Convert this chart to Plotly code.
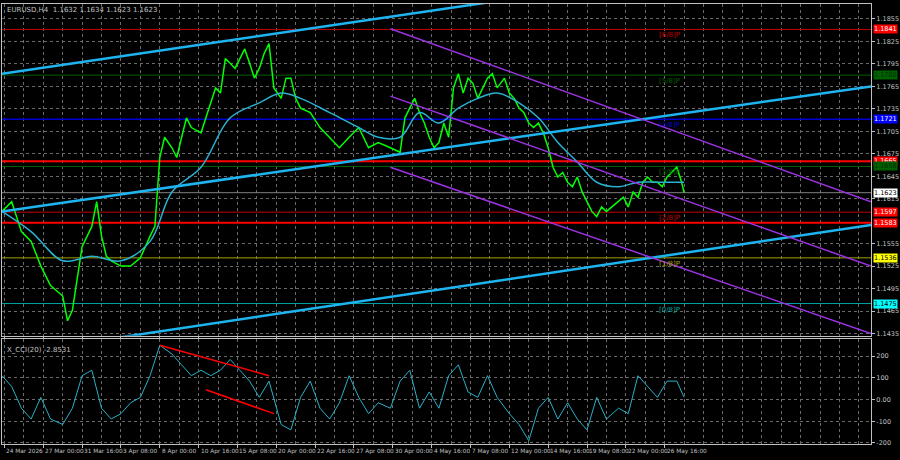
import plotly.graph_objects as go
from plotly.subplots import make_subplots

bars = [0,4,8,12,16,20,25,27,29,31,33,37,39,41,43,45,49,53,57,61,63,65,67,70,72,74,76,78,82,86,88,90,92,94,96,98,100,102,104,106,108,110,112,115,117,119,121,123,127,131,135,139,143,147,151,155,160,164,166,168,170,172,174,176,178,180,182,184,186,188,190,192,194,196,200,202,204,207,209,211,213,215,217,219,221,223,225,227,229,231,233,235,237,239,241,243,245,247,249,254,256,258,260,262,264,266,268,270,272,274,276,278,280,281]
close = [1.1598,1.1611,1.1571,1.1558,1.1525,1.1499,1.1485,1.1452,1.1466,1.1512,1.1551,1.1578,1.1611,1.1565,1.1538,1.1532,1.1525,1.1525,1.1536,1.1565,1.1578,1.1670,1.1697,1.1683,1.1670,1.1697,1.1723,1.1710,1.1703,1.1743,1.1763,1.1756,1.1802,1.1796,1.1789,1.1802,1.1815,1.1796,1.1776,1.1789,1.1809,1.1822,1.1763,1.1749,1.1776,1.1776,1.1749,1.1736,1.1730,1.1710,1.1697,1.1683,1.1697,1.1710,1.1683,1.1690,1.1683,1.1677,1.1723,1.1736,1.1749,1.1730,1.1716,1.1697,1.1683,1.1690,1.1716,1.1697,1.1763,1.1782,1.1756,1.1776,1.1769,1.1749,1.1776,1.1782,1.1763,1.1776,1.1756,1.1749,1.1736,1.1730,1.1716,1.1710,1.1716,1.1703,1.1683,1.1657,1.1644,1.1650,1.1637,1.1631,1.1644,1.1624,1.1611,1.1598,1.1591,1.1604,1.1598,1.1611,1.1617,1.1604,1.1624,1.1617,1.1637,1.1644,1.1637,1.1637,1.1631,1.1644,1.1650,1.1657,1.1637,1.1623]

ma_bars = [0,12,25,37,49,61,70,82,94,106,115,123,135,147,155,164,172,180,188,196,204,213,221,229,237,245,254,262,270,281]
ma_vals = [1.1598,1.1571,1.1532,1.1538,1.1532,1.1558,1.1624,1.1657,1.1723,1.1743,1.1756,1.1749,1.1730,1.1710,1.1697,1.1697,1.1730,1.1716,1.1736,1.1749,1.1756,1.1743,1.1723,1.1690,1.1664,1.1637,1.1631,1.1637,1.1637,1.1637]

cci_bars = [0,4,8,12,16,20,25,29,33,37,41,45,49,53,57,61,65,70,74,78,82,86,90,94,98,102,106,110,115,119,123,127,131,135,139,143,147,151,155,160,164,168,172,176,180,184,188,192,196,200,204,209,213,217,221,225,229,233,237,241,245,249,254,258,262,266,270,274,278,281]
cci = [110,60,-40,-90,10,-90,-115,-40,110,135,-40,-90,-65,-15,10,110,250,210,160,110,135,110,135,185,135,85,10,85,-115,-140,10,85,-40,-90,-15,110,10,-65,-15,-40,85,135,-40,35,-40,110,160,35,10,110,10,-65,-115,-190,-40,10,-90,-15,-90,-140,10,-90,-40,-65,110,60,10,85,85,10]

levels = [1.1841,1.1780,1.1721,1.1665,1.1658,1.1597,1.1583,1.1536,1.1475]
level_colors = ["#c00000","#006000","#0000d0","#ff0000","#006000","#c00000","#ff0000","#a0a000","#00a0a0"]
level_widths = [1,1,1.5,2,1,1,2,1,1]
level_box = ["#ff0000","#006000","#0000ff","#ff0000","#006000","#ff0000","#ff0000","#ffff00","#00ffff"]
level_txt = ["white","#003000","white","white","#003000","white","white","black","black"]
murray_names = ["[6/8]P","[5/8]P","[4/8]P",None,"[3/8]P","[2/8]P",None,"[1/8]P","[0/8]P"]
current = 1.1623

cyan_lines = [((0,1.1782),(200,1.1877)),((0,1.1598),(358,1.1765)),((49,1.1430),(358,1.1580))]
purple_lines = [((160,1.1842),(358,1.1611)),((160,1.1752),(358,1.1525)),((160,1.1657),(358,1.1435))]
div_lines = [((65,250),(110,110)),((84,45),(112,-65))]

tick_labels = ["24 Mar 2026","27 Mar 00:00","31 Mar 16:00","3 Apr 08:00","8 Apr 00:00","10 Apr 16:00","15 Apr 08:00","20 Apr 00:00","22 Apr 16:00","27 Apr 08:00","30 Apr 00:00","4 May 16:00","7 May 08:00","12 May 00:00","14 May 16:00","19 May 08:00","22 May 00:00","26 May 16:00"]
tick_bars = [1 + 16 * i for i in range(len(tick_labels))]
price_ticks = [1.1855,1.1825,1.1795,1.1765,1.1735,1.1705,1.1675,1.1645,1.1615,1.1555,1.1525,1.1495,1.1465,1.1435]
cci_ticks = [200,100,0,-100,-200]

fig = make_subplots(rows=2, cols=1, shared_xaxes=True, row_heights=[0.76,0.24], vertical_spacing=0.008)
for i,(lv,c,w) in enumerate(zip(levels,level_colors,level_widths)):
    fig.add_trace(go.Scatter(x=[0,358],y=[lv,lv],mode="lines",line=dict(color=c,width=w),hoverinfo="skip"),1,1)
    if murray_names[i]:
        fig.add_annotation(x=270,y=lv,text=murray_names[i],showarrow=False,font=dict(size=7,color=c),xanchor="left",yanchor="top",row=1,col=1)
    fig.add_annotation(xref="paper",x=1.002,y=lv,yref="y",text=f"{lv:.4f}",showarrow=False,xanchor="left",
                       font=dict(size=6.5,color=level_txt[i]),bgcolor=level_box[i],borderpad=0)
fig.add_trace(go.Scatter(x=[0,358],y=[current,current],mode="lines",line=dict(color="#808080",width=1)),1,1)
fig.add_annotation(xref="paper",x=1.002,y=current,yref="y",text=f"{current:.4f}",showarrow=False,xanchor="left",
                   font=dict(size=6.5,color="black"),bgcolor="white",borderpad=0)
fig.add_trace(go.Scatter(x=bars,y=close,mode="lines",line=dict(color="#00ff00",width=1.5)),1,1)
fig.add_trace(go.Scatter(x=ma_bars,y=ma_vals,mode="lines",line=dict(color="#2ab0d0",width=1.5,shape="spline")),1,1)
for (a,b) in cyan_lines:
    fig.add_trace(go.Scatter(x=[a[0],b[0]],y=[a[1],b[1]],mode="lines",line=dict(color="#1eb4f0",width=2.5)),1,1)
for (a,b) in purple_lines:
    fig.add_trace(go.Scatter(x=[a[0],b[0]],y=[a[1],b[1]],mode="lines",line=dict(color="#9a32e0",width=1.5)),1,1)
fig.add_trace(go.Scatter(x=cci_bars,y=cci,mode="lines",line=dict(color="#2ab0c8",width=1)),2,1)
for (a,b) in div_lines:
    fig.add_trace(go.Scatter(x=[a[0],b[0]],y=[a[1],b[1]],mode="lines",line=dict(color="#ff0000",width=1.5)),2,1)
fig.add_annotation(xref="paper",yref="paper",x=0.003,y=0.228,text="X_CCI(20) -2.8531",showarrow=False,
                   xanchor="left",yanchor="top",font=dict(size=7,color="#c0c0c0"))
fig.add_annotation(xref="paper",yref="paper",x=0.003,y=1.0,text="EURUSD,H4  1.1632 1.1634 1.1623 1.1623",showarrow=False,
                   xanchor="left",yanchor="top",font=dict(size=7,color="#c0c0c0"))
for tb, tl in zip(tick_bars, tick_labels):
    fig.add_annotation(x=tb, xref="x2", y=0, yref="paper", yshift=-2, text=tl, showarrow=False,
                       xanchor="left", yanchor="top", font=dict(size=5.8, color="#c0c0c0"))

grid = dict(showgrid=True,gridcolor="#6a6a6a",griddash="dot",gridwidth=1)
fig.update_xaxes(range=[0,358],tickvals=tick_bars,showticklabels=False,
                 showline=True,linecolor="#c0c0c0",mirror=True,zeroline=False,ticks="outside",tickcolor="#c0c0c0",ticklen=3,**grid)
fig.update_xaxes(minor=dict(dtick=8,tick0=1,showgrid=True,gridcolor="#6a6a6a",griddash="dot"))
fig.update_yaxes(side="right",showline=True,linecolor="#c0c0c0",mirror=True,zeroline=False,tickfont=dict(size=6.5,color="#c0c0c0"),
                 ticks="outside",tickcolor="#c0c0c0",ticklen=3,**grid)
fig.update_yaxes(range=[1.1432,1.1875],tickvals=price_ticks,tickformat=".4f",row=1,col=1)
fig.update_yaxes(range=[-205,278],tickvals=cci_ticks,ticktext=["200","100","0.00","-100","-200"],row=2,col=1)
fig.update_layout(width=900,height=460,margin=dict(l=1,r=28,t=4,b=16),paper_bgcolor="black",plot_bgcolor="black",
                  showlegend=False,font=dict(family="DejaVu Sans"))
fig.write_html("out.html", config={"displayModeBar": False},
               post_script="document.body.style.margin='0';document.body.style.background='black';document.body.style.overflow='hidden';")
